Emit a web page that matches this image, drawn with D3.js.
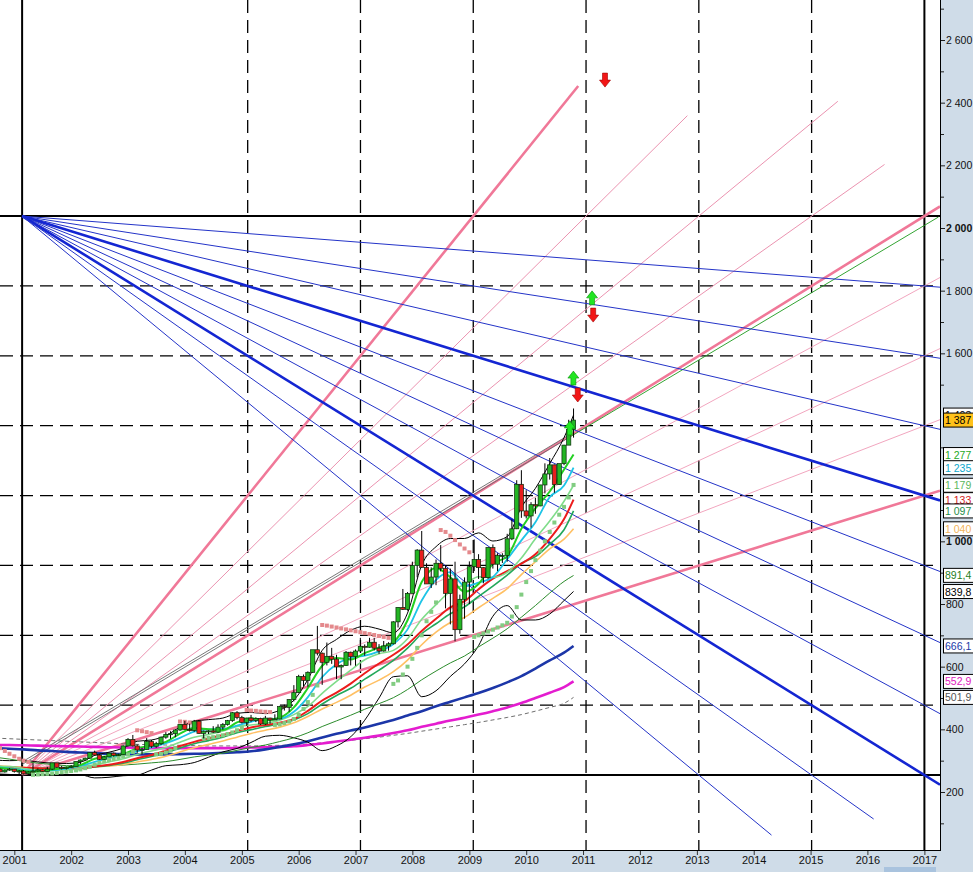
<!DOCTYPE html>
<html><head><meta charset="utf-8">
<script src="https://cdn.jsdelivr.net/npm/d3@7"></script>
<style>
html,body{margin:0;padding:0;background:#fff;}
svg{display:block;font-family:"Liberation Sans",Arial,sans-serif;}
</style></head><body>
<svg id="chart" width="973" height="872"></svg>
<script>
// ---------- DATA ----------
// monthly candles: [month, open, high, low, close]
const candles = [
["2000-10",273,275,263,264],["2000-11",264,272,262,270],["2000-12",270,276,268,273],
["2001-01",273,273,262,265],["2001-02",265,270,255,267],["2001-03",267,270,256,258],["2001-04",258,266,255,264],["2001-05",264,292,263,267],["2001-06",267,275,265,271],["2001-07",271,272,264,265],["2001-08",265,280,265,273],["2001-09",273,293,270,293],["2001-10",293,293,277,279],["2001-11",279,283,272,275],["2001-12",275,281,272,279],
["2002-01",279,286,277,282],["2002-02",282,298,282,297],["2002-03",297,304,289,302],["2002-04",302,310,300,308],["2002-05",308,327,306,326],["2002-06",326,332,315,318],["2002-07",318,321,302,304],["2002-08",304,315,302,312],["2002-09",312,325,311,324],["2002-10",324,326,313,317],["2002-11",317,322,315,319],["2002-12",319,349,318,347],
["2003-01",347,372,345,368],["2003-02",368,382,345,347],["2003-03",347,352,325,334],["2003-04",334,341,320,336],["2003-05",336,372,336,361],["2003-06",361,366,341,346],["2003-07",346,360,341,354],["2003-08",354,377,350,375],["2003-09",375,391,370,384],["2003-10",384,394,370,386],["2003-11",386,400,375,398],["2003-12",398,417,395,416],
["2004-01",416,427,399,400],["2004-02",400,418,393,396],["2004-03",396,430,392,426],["2004-04",426,428,386,387],["2004-05",387,396,371,394],["2004-06",394,397,385,395],["2004-07",395,410,388,391],["2004-08",391,416,388,407],["2004-09",407,420,399,415],["2004-10",415,430,412,428],["2004-11",428,455,424,453],["2004-12",453,458,432,438],
["2005-01",438,443,419,422],["2005-02",422,437,411,436],["2005-03",436,446,424,428],["2005-04",428,438,423,435],["2005-05",435,437,414,417],["2005-06",417,443,414,436],["2005-07",436,437,418,430],["2005-08",430,448,430,433],["2005-09",433,475,432,473],["2005-10",473,479,460,470],["2005-11",470,496,456,495],["2005-12",495,541,489,517],
["2006-01",517,574,516,569],["2006-02",569,575,538,556],["2006-03",556,585,536,582],["2006-04",582,653,580,654],["2006-05",654,730,636,643],["2006-06",643,645,542,614],["2006-07",614,677,604,633],["2006-08",633,660,609,624],["2006-09",624,638,560,599],["2006-10",599,607,560,604],["2006-11",604,650,603,646],["2006-12",646,648,604,632],
["2007-01",632,655,603,650],["2007-02",650,692,649,665],["2007-03",665,671,635,662],["2007-04",662,692,661,678],["2007-05",678,692,652,659],["2007-06",659,672,641,650],["2007-07",650,682,648,666],["2007-08",666,678,651,673],["2007-09",673,745,671,743],["2007-10",743,790,725,789],["2007-11",789,848,781,783],["2007-12",783,838,779,834],
["2008-01",834,935,835,923],["2008-02",923,975,885,972],["2008-03",972,1033,915,917],["2008-04",917,930,865,864],["2008-05",864,917,851,886],["2008-06",886,942,860,930],["2008-07",930,988,904,914],["2008-08",914,924,786,834],["2008-09",834,913,735,880],["2008-10",880,935,681,718],["2008-11",718,830,705,815],["2008-12",815,885,753,870],
["2009-01",870,936,800,919],["2009-02",919,1006,905,942],["2009-03",942,959,880,916],["2009-04",916,917,866,884],["2009-05",884,981,880,980],["2009-06",980,990,913,927],["2009-07",927,962,905,955],["2009-08",955,962,931,955],["2009-09",955,1024,935,1008],["2009-10",1008,1070,1004,1040],["2009-11",1040,1195,1039,1182],["2009-12",1182,1227,1075,1097],
["2010-01",1097,1163,1073,1081],["2010-02",1081,1125,1044,1117],["2010-03",1117,1139,1088,1113],["2010-04",1113,1180,1112,1180],["2010-05",1180,1249,1153,1215],["2010-06",1215,1266,1197,1244],["2010-07",1244,1245,1155,1181],["2010-08",1181,1247,1180,1248],["2010-09",1248,1308,1243,1307],["2010-10",1307,1388,1314,1357],["2010-11",1357,1424,1331,1387]
];

// indicator sample months (quarter ends + last month)
const maDates = ["2000-09","2000-12",
"2001-03","2001-06","2001-09","2001-12","2002-03","2002-06","2002-09","2002-12",
"2003-03","2003-06","2003-09","2003-12","2004-03","2004-06","2004-09","2004-12",
"2005-03","2005-06","2005-09","2005-12","2006-03","2006-06","2006-09","2006-12",
"2007-03","2007-06","2007-09","2007-12","2008-03","2008-06","2008-09","2008-12",
"2009-03","2009-06","2009-09","2009-12","2010-03","2010-06","2010-09","2010-11"];
const maFast   = [278,273, 266,265,272,278, 286,306,315,321, 339,349,360,386, 404,400,398,422, 435,429,437,470, 532,603,628,623, 643,661,678,748, 870,915,885,839, 864,928,952,1040, 1105,1159,1229,1277];
const maCyan   = [280,275, 270,266,269,274, 283,296,308,319, 330,342,356,373, 393,400,401,412, 424,433,434,456, 503,567,608,628, 635,649,672,719, 811,877,902,857, 868,886,943,1003, 1061,1141,1178,1235];
const maLight  = [281,281, 275,271,271,271, 276,287,296,306, 320,331,342,359, 375,384,395,409, 414,419,429,447, 473,515,553,589, 622,641,652,689, 751,798,840,862, 887,885,901,947, 1008,1065,1128,1179];
const maRed    = [280,278, 277,276,274,273, 275,281,287,296, 308,318,332,347, 360,371,382,395, 406,414,421,433, 459,492,517,546, 579,610,638,671, 714,753,789,809, 847,881,905,929, 959,1008,1071,1133];
const maGreen  = [282,279, 276,276,276,274, 276,280,285,292, 303,313,325,340, 354,364,375,389, 399,409,418,430, 450,481,508,531, 560,589,620,659, 705,737,769,791, 824,857,892,930, 951,991,1037,1097];
const maOrange = [284,281, 279,276,275,276, 278,281,283,288, 296,304,314,328, 341,352,363,375, 387,397,407,421, 441,465,486,509, 535,557,584,621, 670,710,741,757, 788,818,849,894, 935,976,1007,1040];
const maDark   = [311,305, 298,292,288,284, 283,283,284,286, 289,293,297,304, 312,318,324,333, 342,350,361,373, 389,409,427,445, 464,482,501,527, 558,586,612,634, 663,691,721,758, 795,835,872,891];
const bandUpper= [302,300, 301,296,292,291, 295,317,327,340, 362,366,380,407, 426,431,436,451, 454,450,461,493, 559,652,687,716, 729,720,708,771, 924,983,1009,1009, 1027,1001,1015,1109, 1169,1248,1331,1403];
const bandLower= [258,256, 253,256,256,255, 255,245,247,252, 254,270,284,287, 294,311,328,339, 358,378,381,373, 359,332,347,376, 429,500,568,571, 504,523,569,609, 667,761,795,749, 749,768,811,840];
const maBlue   = [340,338, 336,333,331,328, 326,324,322,321, 320,320,320,321, 322,323,325,327, 330,336,344,352, 362,374,386,396, 406,418,430,444, 458,474,488,502, 516,532,550,570, 594,620,645,666];
const maMagenta= [350,350, 349,348,347,346, 345,344,343,342, 341,340,340,340, 340,340,340,341, 342,343,344,346, 350,355,361,367, 373,380,388,397, 408,418,428,437, 447,458,470,484, 500,517,535,553];
const maGrey   = [372,370, 368,366,364,362, 360,358,356,354, 352,351,350,349, 348,347,347,347, 347,348,349,350, 353,357,361,365, 370,375,381,387, 394,401,408,415, 422,430,438,447, 458,470,483,502];

// parabolic SAR dots
const sarAbove = [["2000-10",340],["2000-11",331],["2000-12",322],["2001-01",314],["2001-02",306],["2001-03",300],["2001-04",296],
["2003-03",397],["2003-04",394],["2003-05",391],["2003-06",388],
["2003-12",425],["2004-01",424],["2004-02",422],["2004-03",420],["2004-04",418],
["2005-02",462],["2005-03",460],["2005-04",459],["2005-05",457],["2005-06",456],["2005-07",455],
["2006-06",733],["2006-07",731],["2006-08",728],["2006-09",725],["2006-10",722],["2006-11",719],["2006-12",716],["2007-01",713],["2007-02",710],["2007-03",707],["2007-04",704],["2007-05",701],["2007-06",698],["2007-07",695],["2007-08",692],
["2008-07",1036],["2008-08",1030],["2008-09",1018],["2008-10",1004],["2008-11",990],["2008-12",977],["2009-01",965]];
const sarBelow = [["2001-05",255],["2001-06",256],["2001-07",257],["2001-08",258],["2001-09",259],["2001-10",261],["2001-11",263],["2001-12",265],["2002-01",267],["2002-02",269],["2002-03",272],["2002-04",276],["2002-05",281],["2002-06",287],["2002-07",293],["2002-08",298],["2002-09",302],["2002-10",306],["2002-11",310],["2002-12",314],["2003-01",320],["2003-02",328],
["2003-07",320],["2003-08",322],["2003-09",326],["2003-10",332],["2003-11",340],
["2004-05",371],["2004-06",373],["2004-07",375],["2004-08",378],["2004-09",381],["2004-10",385],["2004-11",390],["2004-12",397],["2005-01",404],
["2005-08",414],["2005-09",416],["2005-10",420],["2005-11",425],["2005-12",433],["2006-01",446],["2006-02",465],["2006-03",487],["2006-04",510],["2006-05",540],
["2007-09",545],["2007-10",556],["2007-11",575],["2007-12",600],["2008-01",625],["2008-02",660],["2008-03",700],["2008-04",745],["2008-05",775],["2008-06",805],
["2009-02",695],["2009-03",700],["2009-04",706],["2009-05",712],["2009-06",718],["2009-07",725],["2009-08",732],["2009-09",740],["2009-10",760],["2009-11",790],["2009-12",830],["2010-01",870],["2010-02",905],["2010-03",940],["2010-04",970],["2010-05",1000],["2010-06",1030],["2010-07",1060],["2010-08",1085],["2010-09",1110],["2010-10",1140],["2010-11",1180]];

// Gann box and fans
const ganStart = "2001-02-20", ganEnd = "2017-01-01";
const ganLow = 254, ganHigh = 2038, ganDivs = 8;
const blueFanRight = [1,2,3,4,5,6,7,8];
const blueFanBottom = [[6,"2014-04-25"],[7,"2016-02-10"]];
const pinkFanRight = [4,5,6,7,8];
const pinkFanTop = [[4,"2010-12-01"],[5,"2012-11-01"],[6,"2015-06-25"],[7,"2016-04-20"]];
const trendLine = [["2001-02-20",288],["2010-10-08",1333],["2017-04-01",2035]];

// signal arrows
const arrowsDown = [["2011-05-22",2472],["2011-03-07",1722],["2010-11-28",1467]];
const arrowsUp = [["2011-02-28",1777],["2010-10-31",1521],["2010-10-08",1362]];

// axis ticks and value boxes
const yTickValues = [200,400,600,800,1000,1600,1800,2000,2200,2400,2600];
const yTickLabels = ["200","400","600","800","1 000","1 600","1 800","2 000","2 200","2 400","2 600"];
const yMinorTicks = [100,300,500,700,900,1100,1300,1500,1700,1900,2100,2300,2500,2700];
const xYears = ["2001","2002","2003","2004","2005","2006","2007","2008","2009","2010","2011","2012","2013","2014","2015","2016","2017"];
const boxValues = [1403,1387,1277,1235,1179,1133,1097,1040,891.4,839.8,666.1,552.9,501.9];
const boxLabels = ["1 403","1 387","1 277","1 235","1 179","1 133","1 097","1 040","891,4","839,8","666,1","552,9","501,9"];

// ---------- STYLE ----------
const boxTextColors = ["#000","#000","#1faa1f","#10a8cc","#5cb85c","#d42020","#1f8f4a","#f2b45a","#1f7f1f","#000","#1c3aa8","#e020c0","#555"];
const boxFills = ["#fff","#ffc21a","#fff","#fff","#fff","#fff","#fff","#fff","#fff","#fff","#fff","#fff","#fff"];
const panelColor = "#cfdce8";
const W = 973, H = 872, plotR = 940, plotB = 850;

// ---------- CHART ----------
const parse = s => { const p = s.split("-").map(Number); return new Date(p[0], p[1]-1, p[2]||1); };
const xs = d3.scaleTime().domain([new Date(2000,9,1), new Date(2017,0,1)]).range([0, 924.4]);
const ys = d3.scaleLinear().domain([200,2600]).range([792,40]);

const svg = d3.select("#chart");
svg.append("rect").attr("width",W).attr("height",H).attr("fill","#fff");
svg.append("defs").append("clipPath").attr("id","plot").append("rect").attr("x",0).attr("y",0).attr("width",plotR).attr("height",plotB);
svg.append("defs").append("clipPath").attr("id","panel").append("rect").attr("x",plotR+1).attr("y",0).attr("width",W-plotR-1).attr("height",plotB);
const g = svg.append("g").attr("clip-path","url(#plot)");

// grid of the Gann box
const t0 = parse(ganStart), t1 = parse(ganEnd);
const tStep = (t1 - t0)/ganDivs, pStep = (ganHigh - ganLow)/ganDivs;
const gridG = g.append("g");
d3.range(0, ganDivs+1).forEach(k => {
  if (k === 1) return;
  const x = xs(new Date(+t0 + k*tStep));
  const solid = (k===0 || k===ganDivs);
  gridG.append("line").attr("x1",x).attr("x2",x).attr("y1",0).attr("y2",plotB)
    .attr("stroke","#000").attr("stroke-width",solid?2:1.3).attr("stroke-dasharray",solid?null:"13,7");
});
d3.range(0, ganDivs+1).forEach(k => {
  const y = ys(ganLow + k*pStep);
  const solid = (k===0 || k===ganDivs);
  gridG.append("line").attr("x1",0).attr("x2",plotR).attr("y1",y).attr("y2",y)
    .attr("stroke","#000").attr("stroke-width",solid?2:1.3).attr("stroke-dasharray",solid?null:"13,7");
});

function extend(x0,y0,x1,y1,xe){ const t=(xe-x0)/(x1-x0); return [x0,y0,xe,y0+t*(y1-y0)]; }
const fanG = g.append("g");
function fanLine(pts, color, w){
  fanG.append("line").attr("x1",pts[0]).attr("y1",pts[1]).attr("x2",pts[2]).attr("y2",pts[3])
    .attr("stroke",color).attr("stroke-width",w);
}
// pink fan from the low corner
const px0 = xs(t0), py0 = ys(ganLow);
pinkFanRight.forEach(k => {
  const thick = (k===4 || k===8);
  fanLine(extend(px0,py0,xs(t1),ys(ganLow+k*pStep),plotR), thick?"#f07898":"#f2a6bf", thick?2.6:1);
});
pinkFanTop.forEach(([k,e]) => {
  const thick = (k===4);
  fanLine(extend(px0,py0,xs(new Date(+t0+k*tStep)),ys(ganHigh),xs(parse(e))), thick?"#f07898":"#eb93b0", thick?2.6:1);
});
// trend line
const tl = trendLine.map(d => [xs(parse(d[0])), ys(d[1])]);
fanG.append("line").attr("x1",tl[0][0]).attr("y1",tl[0][1]).attr("x2",tl[1][0]).attr("y2",tl[1][1]).attr("stroke","#6a6a6a").attr("stroke-width",0.9);
fanG.append("line").attr("x1",tl[0][0]).attr("y1",tl[0][1]-2.5).attr("x2",tl[1][0]).attr("y2",tl[1][1]-2.5).attr("stroke","#6a6a6a").attr("stroke-width",0.9);
fanG.append("line").attr("x1",tl[1][0]).attr("y1",tl[1][1]).attr("x2",tl[2][0]).attr("y2",tl[2][1]).attr("stroke","#1c9a1c").attr("stroke-width",0.9);
// blue fan from the high corner
const bx0 = xs(t0), by0 = ys(ganHigh);
blueFanRight.forEach(k => {
  const thick = (k===4 || k===8);
  fanLine(extend(bx0,by0,xs(t1),ys(ganHigh-k*pStep),plotR), thick?"#1426d2":"#2434c8", thick?2.6:1);
});
blueFanBottom.forEach(([k,e]) => {
  fanLine(extend(bx0,by0,xs(new Date(+t0+k*tStep)),ys(ganLow),xs(parse(e))), "#2434c8", 1);
});

// moving averages
const maG = g.append("g").attr("fill","none");
const mdates = maDates.map(parse);
function maLine(vals, color, w, dash){
  const line = d3.line().x((d,i)=>xs(mdates[i])).y(d=>ys(d)).curve(d3.curveMonotoneX);
  maG.append("path").attr("d",line(vals)).attr("stroke",color).attr("stroke-width",w)
    .attr("stroke-dasharray",dash||null).attr("stroke-linejoin","round");
}
maLine(maGrey,"#6e6e6e",1,"4,3");
maLine(maMagenta,"#e41ccf",2.6);
maLine(maBlue,"#1c36a8",2.6);
maLine(bandLower,"#000",1);
maLine(bandUpper,"#000",1);
maLine(maDark,"#2c8c2c",1);
maLine(maOrange,"#ffc064",1.6);
maLine(maGreen,"#23a85a",1.6);
maLine(maRed,"#ec1c1c",2);
maLine(maLight,"#7fdc8a",1.6);
maLine(maCyan,"#1ec4e6",1.8);
maLine(maFast,"#22d022",2);

// SAR
const sarG = g.append("g");
sarG.selectAll(".sa").data(sarAbove).enter().append("rect")
  .attr("x",d=>xs(parse(d[0]))-2).attr("y",d=>ys(d[1])-2).attr("width",4).attr("height",4).attr("fill","#e4898c");
sarG.selectAll(".sb").data(sarBelow).enter().append("rect")
  .attr("x",d=>xs(parse(d[0]))-2).attr("y",d=>ys(d[1])-2).attr("width",4).attr("height",4).attr("fill","#82cc82");

// candles
const cw = 4.2;
const cG = g.append("g");
candles.forEach(d => {
  const x = xs(parse(d[0]));
  const [o,h,l,c] = d.slice(1);
  cG.append("line").attr("x1",x).attr("x2",x).attr("y1",ys(h)).attr("y2",ys(l)).attr("stroke","#000").attr("stroke-width",1);
  const top = ys(Math.max(o,c)), bot = ys(Math.min(o,c));
  cG.append("rect").attr("x",x-cw/2).attr("y",top).attr("width",cw).attr("height",Math.max(1,bot-top))
    .attr("fill", c>=o ? "#24b524" : "#e81e1e").attr("stroke","#0a2a0a").attr("stroke-width",0.7);
});

// arrows
const aG = g.append("g");
function arrowPath(cx,cy,up){
  const s = up?-1:1;
  return `M${cx-2.5},${cy-7*s}L${cx+2.5},${cy-7*s}L${cx+2.5},${cy}L${cx+5.5},${cy}L${cx},${cy+7*s}L${cx-5.5},${cy}L${cx-2.5},${cy}Z`;
}
arrowsDown.forEach(d => aG.append("path").attr("d",arrowPath(xs(parse(d[0])),ys(d[1]),false)).attr("fill","#f21616").attr("stroke","#a00000").attr("stroke-width",0.6));
arrowsUp.forEach(d => aG.append("path").attr("d",arrowPath(xs(parse(d[0])),ys(d[1]),true)).attr("fill","#22e622").attr("stroke","#0e8e0e").attr("stroke-width",0.6));

// panels and borders
svg.append("rect").attr("x",plotR+1).attr("y",0).attr("width",W-plotR-1).attr("height",H).attr("fill",panelColor);
svg.append("rect").attr("x",0).attr("y",plotB+1).attr("width",W).attr("height",H-plotB-1).attr("fill",panelColor);
svg.append("rect").attr("x",884).attr("y",867).attr("width",52).attr("height",5).attr("fill","#a9c3de");
svg.append("line").attr("x1",plotR+0.5).attr("x2",plotR+0.5).attr("y1",0).attr("y2",plotB+1).attr("stroke","#000");
svg.append("line").attr("x1",0).attr("x2",plotR+1).attr("y1",plotB+0.5).attr("y2",plotB+0.5).attr("stroke","#000");

// right axis
const yAxisG = svg.append("g").attr("transform",`translate(${plotR+1},0)`)
  .call(d3.axisRight(ys).tickValues(yTickValues).tickFormat((d,i)=>yTickLabels[i]).tickSize(4).tickPadding(1));
yAxisG.select(".domain").remove();
yAxisG.selectAll("line").attr("stroke","#222");
yAxisG.selectAll("text").attr("font-size","10.5px").attr("fill","#111").attr("font-family","Liberation Sans, Arial, sans-serif")
  .attr("font-weight",d=> (d===2000||d===1000)?"bold":"normal");
const yMinorG = svg.append("g").attr("transform",`translate(${plotR+1},0)`)
  .call(d3.axisRight(ys).tickValues(yMinorTicks).tickFormat("").tickSize(3));
yMinorG.select(".domain").remove();
yMinorG.selectAll("line").attr("stroke","#222");

// bottom axis
const xAxisG = svg.append("g").attr("transform",`translate(0,${plotB+1})`)
  .call(d3.axisBottom(xs).tickValues(xYears.map(y=>new Date(+y,0,1))).tickFormat(d3.timeFormat("%Y")).tickSize(4).tickPadding(1));
xAxisG.select(".domain").remove();
xAxisG.selectAll("line").attr("stroke","#333");
xAxisG.selectAll("text").attr("font-size","11px").attr("fill","#111").attr("font-family","Liberation Sans Narrow, Arial Narrow, sans-serif");

// value boxes
const bG = svg.append("g").attr("clip-path","url(#panel)");
boxValues.forEach((v,i) => {
  const y = ys(v);
  bG.append("rect").attr("x",plotR+3.5).attr("y",y-7).attr("width",40).attr("height",14)
    .attr("fill",boxFills[i]).attr("stroke","#000").attr("stroke-width",1);
  bG.append("text").attr("x",plotR+5).attr("y",y+4).attr("font-size","10.5px")
    .attr("fill",boxTextColors[i]).text(boxLabels[i]);
});
</script></body></html>
